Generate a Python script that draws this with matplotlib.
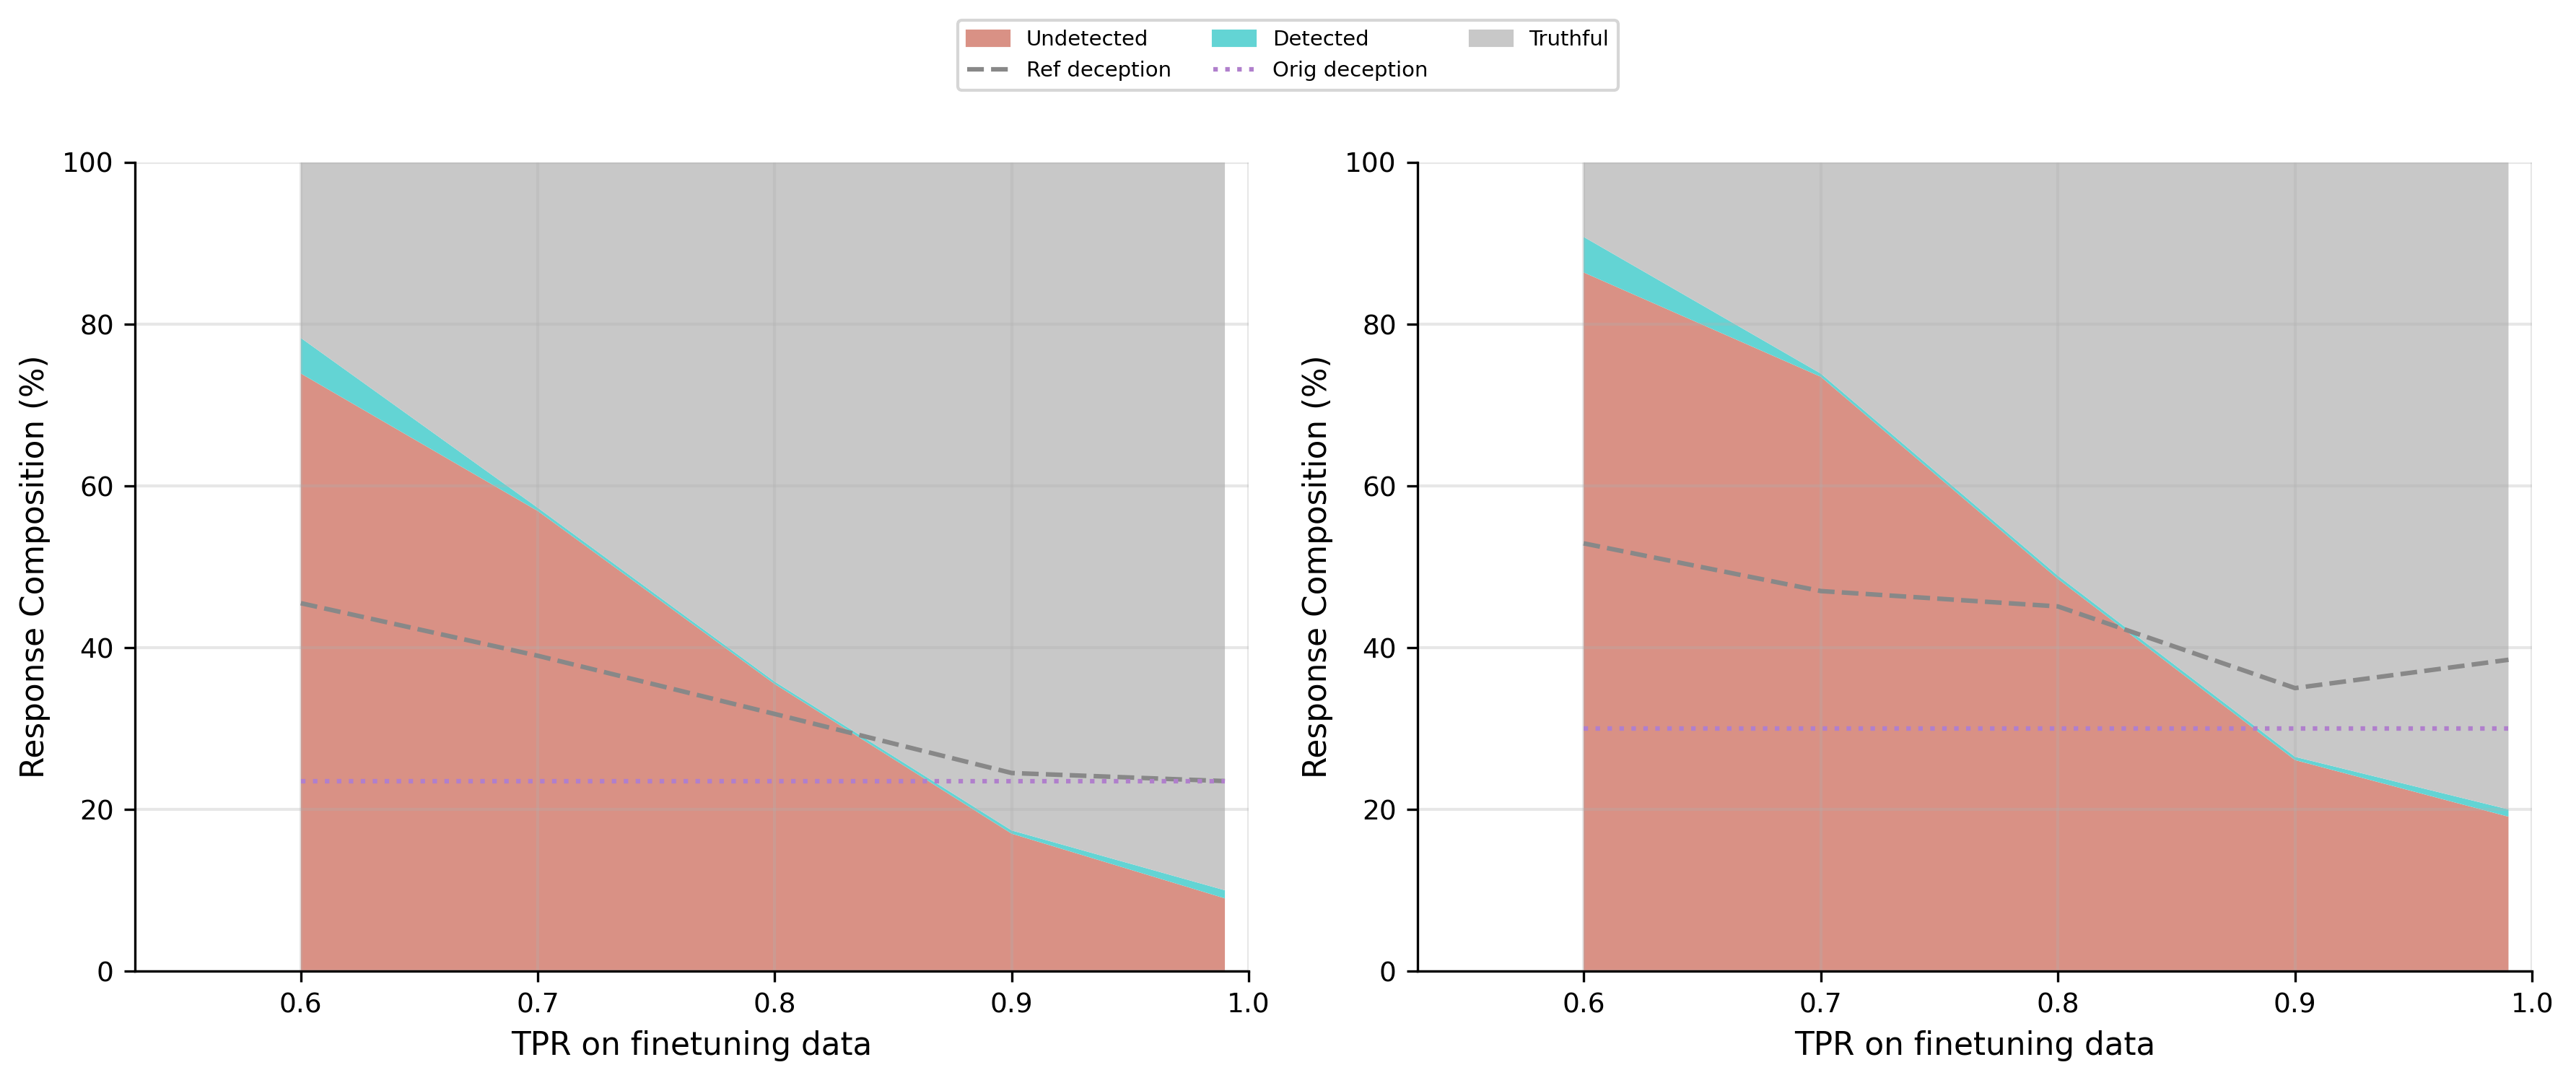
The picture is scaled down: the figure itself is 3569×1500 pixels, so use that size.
import numpy as np
from matplotlib import pyplot as plt
from matplotlib.patches import Patch
from matplotlib.lines import Line2D

## DATA
tpr = [0.6, 0.7, 0.8, 0.9, 0.99]

# left panel
undetected_a = [73.9, 56.9, 35.5, 17.0, 9.0]
detected_a = [4.4, 0.4, 0.3, 0.4, 1.0]
ref_deception_a = [45.5, 39.0, 31.8, 24.5, 23.5]
orig_deception_a = 23.5

# right panel
undetected_b = [86.4, 73.5, 48.5, 26.1, 19.1]
detected_b = [4.4, 0.4, 0.4, 0.4, 0.9]
ref_deception_b = [52.9, 47.0, 45.1, 35.0, 38.5]
orig_deception_b = 30.0

panels = [
    (undetected_a, detected_a, ref_deception_a, orig_deception_a),
    (undetected_b, detected_b, ref_deception_b, orig_deception_b),
]

# colours
c_undet = '#d99185'
c_det = '#63d4d4'
c_truth = '#c8c8c8'
c_ref = '#888888'
c_orig = '#b07fcc'

## PLOT
fig = plt.figure(figsize=(3569 / 300, 5), dpi=300)
axes = [fig.add_axes([0.0524, 0.1033, 0.4323, 0.7467]),
        fig.add_axes([0.5503, 0.1033, 0.4327, 0.7467])]

for ax, (und, det, ref, orig) in zip(axes, panels):
    und = np.array(und)
    det = np.array(det)
    truth = 100 - und - det
    ax.stackplot(tpr, und, det, truth, colors=[c_undet, c_det, c_truth], linewidth=0)
    ax.plot(tpr, ref, color=c_ref, linestyle='--', linewidth=1.5)
    ax.plot(tpr, [orig] * len(tpr), color=c_orig, linestyle=':', linewidth=1.5)

    ax.set_xlim(0.53, 1.0)
    ax.set_ylim(0, 100)
    ax.set_xticks([0.6, 0.7, 0.8, 0.9, 1.0])
    ax.grid(True, color='#b0b0b0', alpha=0.3, linewidth=1)
    ax.spines['top'].set_visible(False)
    ax.spines['right'].set_visible(False)
    ax.tick_params(labelsize=9)
    ax.set_xlabel('TPR on finetuning data', fontsize=10.5)
    ax.set_ylabel('Response Composition (%)', fontsize=10.5)

# legend: row 1 = fills, row 2 = lines (matplotlib fills column-wise)
handles = [
    Patch(color=c_undet, label='Undetected'),
    Line2D([], [], color=c_ref, linestyle='--', linewidth=1.5, label='Ref deception'),
    Patch(color=c_det, label='Detected'),
    Line2D([], [], color=c_orig, linestyle=':', linewidth=1.5, label='Orig deception'),
    Patch(color=c_truth, label='Truthful'),
]
fig.legend(handles=handles, loc='upper center', bbox_to_anchor=(0.5, 0.991),
           ncol=3, fontsize=7, borderpad=0.45)

fig.savefig('out.png', dpi=300)
